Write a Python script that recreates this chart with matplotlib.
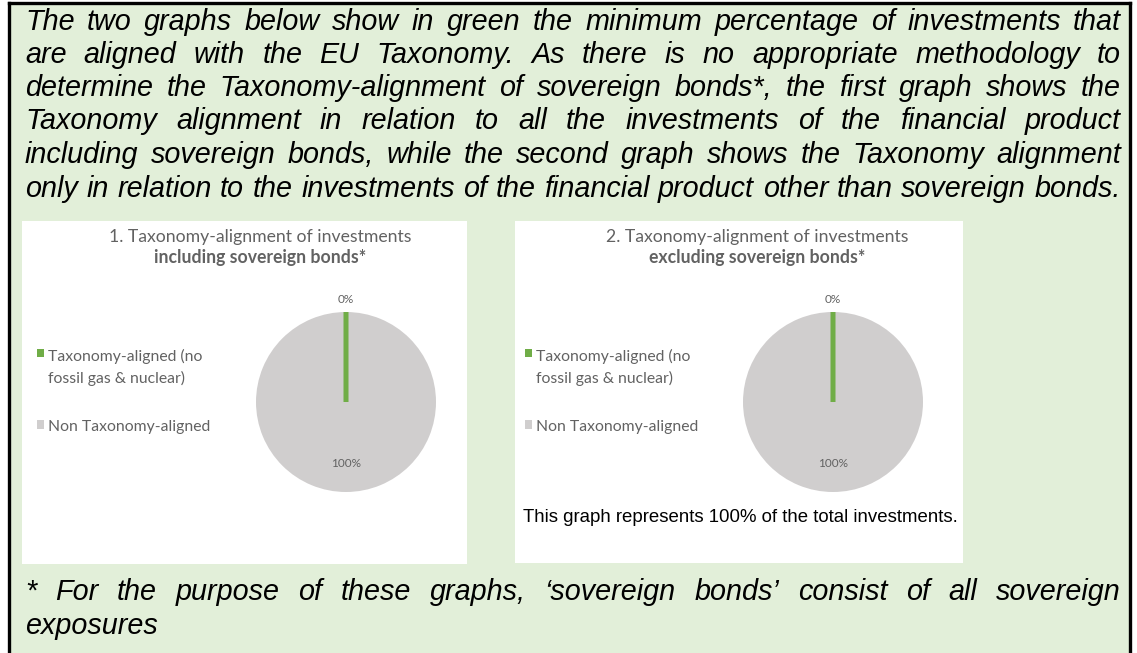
import matplotlib
matplotlib.use("Agg")
import matplotlib.pyplot as plt
import numpy as np
from matplotlib.patches import Rectangle, Patch
from matplotlib.lines import Line2D

W, H = 1137, 653

intro_lines = [
    "The two graphs below show in green the minimum percentage of investments that",
    "are aligned with the EU Taxonomy. As there is no appropriate methodology to",
    "determine the Taxonomy-alignment of sovereign bonds*, the first graph shows the",
    "Taxonomy alignment in relation to all the investments of the financial product",
    "including sovereign bonds, while the second graph shows the Taxonomy alignment",
    "only in relation to the investments of the financial product other than sovereign bonds.",
]
footnote_lines = [
    "* For the purpose of these graphs, \u2018sovereign bonds\u2019 consist of all sovereign",
    "exposures",
]

categories = ["Taxonomy-aligned (no\nfossil gas & nuclear)", "Non Taxonomy-aligned"]
incl_values = [0, 100]
excl_values = [0, 100]
titles = [
    ("1. Taxonomy-alignment of investments", "including sovereign bonds*"),
    ("2. Taxonomy-alignment of investments", "excluding sovereign bonds*"),
]
note = "This graph represents 100% of the total investments."

green = "#70AD47"
grey = "#D0CECE"
txt_grey = "#626262"
bg = "#E2EFD9"


def fx(x):
    return x / W


def fy(y):
    return 1 - y / H


fig = plt.figure(figsize=(W / 100, H / 100), dpi=100)
fig.patch.set_facecolor("white")

# green box with black frame (no bottom line)
fig.patches.append(Rectangle((fx(9), 0), fx(1130) - fx(9), fy(3), transform=fig.transFigure,
                             facecolor=bg, edgecolor="none", zorder=-3))
fig.add_artist(Line2D([fx(9), fx(9)], [0, fy(3)], color="black", lw=2.4))
fig.add_artist(Line2D([fx(1130), fx(1130)], [0, fy(3)], color="black", lw=2.4))
fig.add_artist(Line2D([fx(9), fx(1130)], [fy(3), fy(3)], color="black", lw=2.4))

# white chart panels
for (x0, y0, x1, y1) in [(22, 221, 467, 564), (515, 221, 963, 563)]:
    fig.patches.append(Rectangle((fx(x0), fy(y1)), fx(x1) - fx(x0), fy(y0) - fy(y1),
                                 transform=fig.transFigure, facecolor="white",
                                 edgecolor="none", zorder=-2))

renderer = fig.canvas.get_renderer()

# size the body font so the (unjustified) last intro line spans the box
probe = fig.text(0, 0, intro_lines[-1], fontsize=14, style="italic", family="Liberation Sans")
body_size = 14 * 1094 / probe.get_window_extent(renderer).width
probe.remove()


def justified(line, y, x0=25, x1=1121, justify=True):
    words = line.split(" ")
    texts = [fig.text(0, fy(y), w, fontsize=body_size, style="italic", family="Liberation Sans",
                      va="center", ha="left") for w in words]
    widths = [t.get_window_extent(renderer).width for t in texts]
    if justify and len(words) > 1:
        gap = (x1 - x0 - sum(widths)) / (len(words) - 1)
    else:
        gap = body_size * 100 / 72 * 0.278
    x = x0
    for t, w in zip(texts, widths):
        t.set_x(fx(x))
        x += w + gap


intro_y = [22, 55, 88, 121, 155, 189]
for line, y in zip(intro_lines, intro_y):
    justified(line, y)
justified(footnote_lines[0], 592)
justified(footnote_lines[1], 626, justify=False)


def draw_pie(cx, cy, r, values, title, leg_x, title_x):
    ax = fig.add_axes([fx(cx - r), fy(cy + r), 2 * r / W, 2 * r / H])
    wedges, labels = ax.pie(values, colors=[green, grey], startangle=90, counterclock=False,
                            labels=[f"{v}%" for v in values], labeldistance=1.0,
                            wedgeprops=dict(linewidth=0),
                            textprops=dict(fontsize=8.5, color=txt_grey, family="Lato"))
    ax.set_xlim(-1, 1)
    ax.set_ylim(-1, 1)
    # the 0% slice shows up as a thin green spoke
    wedges[0].set_edgecolor(green)
    wedges[0].set_linewidth(3.6)
    wedges[0].set_zorder(3)
    for w, t, d in zip(wedges, labels, [1.14, 0.68]):
        ang = np.deg2rad((w.theta1 + w.theta2) / 2)
        t.set_position((d * np.cos(ang), d * np.sin(ang)))
        t.set_ha("center")
        t.set_va("center")
        t.set_clip_on(False)
    handles = [Patch(facecolor=w.get_facecolor(), edgecolor="none") for w in wedges]
    leg = ax.legend(handles, categories, loc="upper left", frameon=False,
                    bbox_to_anchor=(fx(leg_x), fy(349)), bbox_transform=fig.transFigure,
                    prop=dict(family="Lato", size=11.3), labelcolor=txt_grey,
                    handlelength=0.45, handleheight=0.45, handletextpad=0.25, labelspacing=2.2,
                    borderaxespad=0, borderpad=0)
    for t in leg.get_texts():
        t.set_linespacing(1.55)
    # marker sits on the first line of a wrapped label
    for col in leg._legend_handle_box.get_children():
        for row in col.get_children():
            row.align = "top"
    fig.text(fx(title_x), fy(237), title[0], ha="center", va="center", fontsize=12.7,
             color=txt_grey, family="Lato")
    fig.text(fx(title_x), fy(258), title[1], ha="center", va="center", fontsize=12.7,
             color=txt_grey, family="Lato", weight="bold")


draw_pie(346, 402, 90, incl_values, titles[0], 37, 260)
draw_pie(833, 402, 90, excl_values, titles[1], 525, 757)

fig.text(fx(740), fy(517), note, ha="center", va="center", fontsize=13.4,
         family="Liberation Sans")

fig.savefig("out.png", dpi=100, facecolor="white")
